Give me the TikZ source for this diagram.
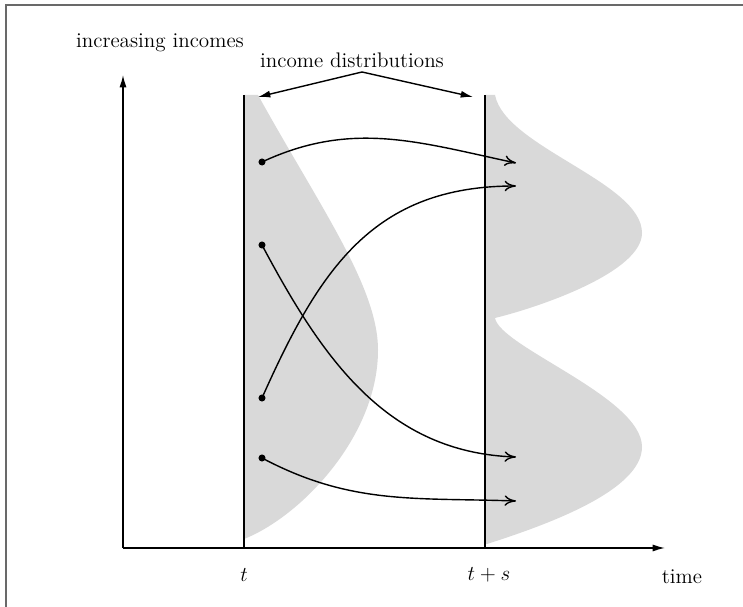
\documentclass[tikz,border=0pt]{standalone}
\usepackage{tikz}
\usetikzlibrary{arrows.meta,positioning,calc}
\definecolor{distGray}{RGB}{217,217,217}
\definecolor{frameGray}{RGB}{105,105,105}

\begin{document}
\begin{tikzpicture}[every node/.style={font=\large},x=0.02cm,y=0.02cm,
    axis/.style={line width=0.8pt,-{Latex[length=7pt,width=4pt]}},
    flow/.style={line width=0.8pt,-{To[length=6.5pt,width=6pt]}},
    startdot/.style={circle,fill,inner sep=0pt,minimum size=4pt}]
  \useasboundingbox (0,0) rectangle (743,607);
  \draw[frameGray,line width=1.1pt](6,0)--(6,602)--(743,602);
  % the two distributions
  \fill[distGray](244,512)--(258,512)
    .. controls (320,400) and (378,320) .. (378,257)
    .. controls (378,170) and (300,90) .. (244,68)--cycle;
  \fill[distGray](485,512)--(495,512)
    .. controls (505,460) and (642,425) .. (642,374)
    .. controls (642,335) and (540,300) .. (495,289)
    .. controls (500,260) and (642,210) .. (642,160)
    .. controls (642,115) and (540,80) .. (487,63)--(485,63)--cycle;
  % axes and the two dates
  \coordinate (origin) at (123,59);
  \coordinate (ytip) at (123,532);
  \coordinate (xtip) at (665,59);
  \draw[axis](origin)--(ytip);
  \draw[axis](origin)--(xtip);
  \coordinate (tbase) at (244,59);
  \coordinate (ttop) at (244,512);
  \coordinate (tsbase) at (485,59);
  \coordinate (tstop) at (485,512);
  \draw[line width=0.8pt](tbase)--(ttop);
  \draw[line width=0.8pt](tsbase)--(tstop);
  \node (ylabel) at (160,564){increasing incomes};
  \node (tlabel) at (244,32){$t$};
  \node (tslabel) at (489,32){$t+s$};
  \node (timelabel) at (682,30){time};
  \node (distlabel) at (352,547){income distributions};
  \coordinate (apex) at (362,535);
  \coordinate (leftend) at (258,510);
  \coordinate (rightend) at (473,510);
  \draw[axis](apex)--(leftend);
  \draw[axis](apex)--(rightend);
  % movements between t and t+s
  \foreach \n/\y in {a/445,b/362,c/209,d/149}{
    \node[startdot] (s\n) at (262,\y){};
  }
  \foreach \n/\y in {a/444,b/150,c/421,d/106}{
    \coordinate (e\n) at (516,\y);
  }
  \foreach \n/\o/\i/\l in {a/25/168/1,b/-62/178/1,c/66/180/1.1,d/-28/178/1}{
    \draw[flow](s\n.center) to[out=\o,in=\i,looseness=\l] (e\n);
  }
\end{tikzpicture}
\end{document}
